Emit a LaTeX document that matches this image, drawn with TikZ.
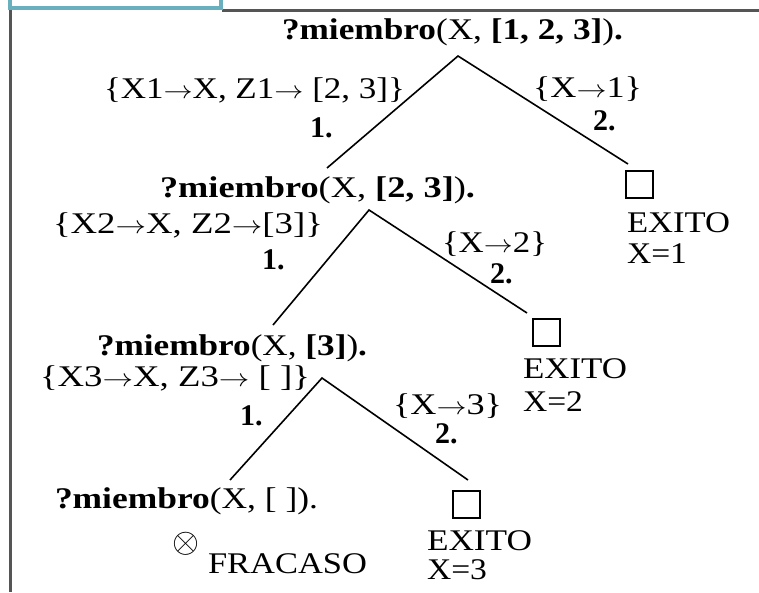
\documentclass[tikz,border=0pt]{standalone}
\usepackage{fontspec}
\setmainfont{Liberation Serif}
\usepackage{graphicx}
\definecolor{framegray}{HTML}{555555}
\definecolor{tabteal}{HTML}{6AAFBE}
\newcommand{\fitw}[2]{\resizebox{#1pt}{\height}{#2}}
\newcommand{\ar}{\ensuremath{\rightarrow}}
\begin{document}
\begin{tikzpicture}[x=1pt,y=-1pt,
  txt/.style={anchor=base west, inner sep=0pt, outer sep=0pt, font=\fontsize{30}{36}\selectfont},
  branch/.style={line width=1.6pt, black},
  goal/.style={draw, line width=1.8pt, minimum size=27pt, inner sep=0pt, anchor=north west},
  frame/.style={line width=3pt, framegray},
  tab/.style={line width=4pt, tabteal}
]
\useasboundingbox (0,0) rectangle (759,592);
\fill[white] (0,0) rectangle (759,592);
% frame and tab
\draw[frame] (222,10.5) -- (759,10.5);
\draw[frame] (10.5,10) -- (10.5,592);
\draw[tab] (10,0) -- (10,8) -- (220.5,8) -- (220.5,0);

% level 1
\node[txt] (g1) at (282,39) {\fitw{341}{\textbf{?miembro}(X, \textbf{[1, 2, 3]})\textbf{.}}};
\node[txt] (u1) at (104,98) {\fitw{301}{\{X1\ar X, Z1\ar\ [2, 3]\}}};
\node[txt] (k1) at (310,137) {\textbf{1.}};
\node[txt] (u2) at (533,97) {\fitw{109}{\{X\ar 1\}}};
\node[txt] (k2) at (593,130) {\textbf{2.}};
\node[goal] (b1) at (625,170) {};
\node[txt] (e1) at (627,232) {\fitw{103}{EXITO}};
\node[txt] (x1) at (627,263) {\fitw{60}{X=1}};

% level 2
\node[txt] (g2) at (160,197) {\fitw{315}{\textbf{?miembro}(X, \textbf{[2, 3]})\textbf{.}}};
\node[txt] (u3) at (53,233) {\fitw{270}{\{X2\ar X, Z2\ar[3]\}}};
\node[txt] (k3) at (262,269) {\textbf{1.}};
\node[txt] (u4) at (442,252) {\fitw{105}{\{X\ar 2\}}};
\node[txt] (k4) at (490,283) {\textbf{2.}};
\node[goal] (b2) at (532,318) {};
\node[txt] (e2) at (523,378) {\fitw{104}{EXITO}};
\node[txt] (x2) at (523,411) {\fitw{60}{X=2}};

% level 3
\node[txt] (g3) at (97,355) {\fitw{270}{\textbf{?miembro}(X, \textbf{[3]})\textbf{.}}};
\node[txt] (u5) at (40,386) {\fitw{270}{\{X3\ar X, Z3\ar\ [ ]\}}};
\node[txt] (k5) at (240,425) {\textbf{1.}};
\node[txt] (u6) at (393,414) {\fitw{109}{\{X\ar 3\}}};
\node[txt] (k6) at (435,443) {\textbf{2.}};
\node[goal] (b3) at (452,490) {};
\node[txt] (e3) at (427,550) {\fitw{105}{EXITO}};
\node[txt] (x3) at (427,579) {\fitw{60}{X=3}};

% level 4
\node[txt] (g4) at (55,508) {\fitw{263}{\textbf{?miembro}(X, [ ]).}};
\node[inner sep=0pt, font=\fontsize{20}{24}\selectfont] (fx) at (186,544) {\resizebox{27pt}{!}{$\otimes$}};
\node[txt] (f4) at (208,573) {\fitw{159}{FRACASO}};

% branches
\coordinate (v1) at (458,56);
\coordinate (l1) at (327,168);
\coordinate (r1) at (628,164);
\coordinate (v2) at (369,210);
\coordinate (l2) at (273,325);
\coordinate (r2) at (527,313);
\coordinate (v3) at (322,378);
\coordinate (l3) at (230,480);
\coordinate (r3) at (468,480);
\draw[branch] (l1) -- (v1) -- (r1);
\draw[branch] (l2) -- (v2) -- (r2);
\draw[branch] (l3) -- (v3) -- (r3);
\end{tikzpicture}
\end{document}
